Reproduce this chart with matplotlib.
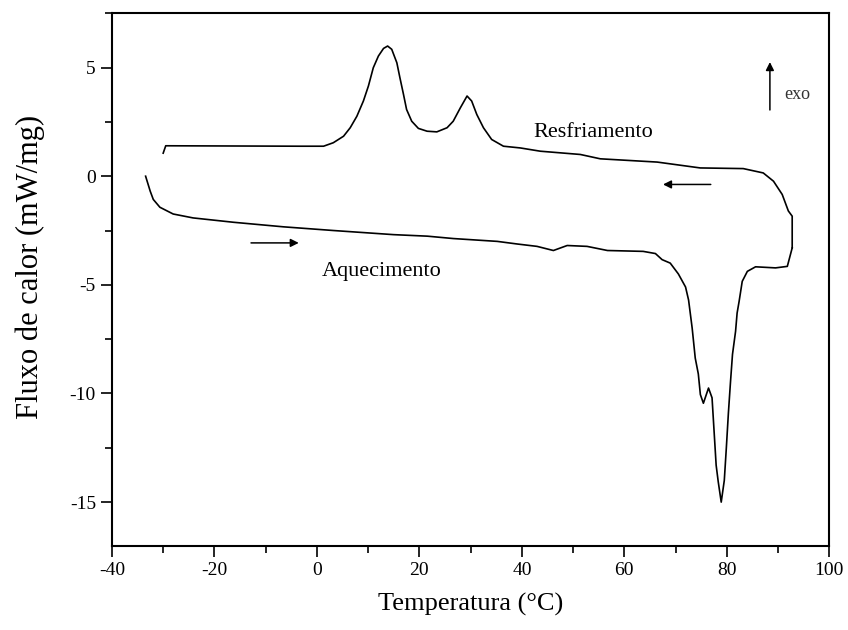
import matplotlib
matplotlib.use("Agg")
import matplotlib.pyplot as plt
from matplotlib.ticker import MultipleLocator

plt.rcParams['font.family'] = ['Liberation Serif', 'DejaVu Serif']
plt.rcParams['axes.unicode_minus'] = False

# heating run (Aquecimento), left to right
heat_T = [-33.43, -32.53, -31.93, -30.64, -28.05, -24.17, -16.3, -6.54, 3.22, 14.97,
          21.55, 26.63, 35.19, 39.07, 42.96, 46.15, 48.84, 52.72, 56.7, 63.67,
          66.06, 67.36, 68.95, 70.54, 71.94, 72.53, 73.23, 73.83, 74.43, 74.83,
          75.42, 76.42, 77.11, 77.51, 77.91, 78.31, 78.9, 79.5, 79.9, 80.3,
          80.7, 81.1, 81.7, 82.0, 82.4, 83.0, 84.0, 85.6, 89.5, 91.8, 92.75]
heat_q = [0.0, -0.69, -1.07, -1.43, -1.74, -1.92, -2.12, -2.33, -2.5, -2.69,
          -2.76, -2.87, -3.0, -3.12, -3.23, -3.42, -3.19, -3.23, -3.42, -3.46,
          -3.56, -3.84, -4.0, -4.5, -5.1, -5.7, -6.99, -8.37, -9.1, -10.05,
          -10.45, -9.75, -10.2, -11.75, -13.3, -14.05, -15.0, -14.0, -12.5, -10.9,
          -9.5, -8.2, -7.14, -6.3, -5.75, -4.84, -4.38, -4.17, -4.22, -4.15, -3.3]

# cooling run (Resfriamento), right to left
cool_T = [92.75, 92.75, 92.0, 90.8, 89.1, 87.1, 83.2, 74.8, 66.4, 55.3,
          51.4, 43.6, 39.7, 36.4, 34.1, 32.5, 31.2, 30.2, 29.3, 28.0,
          26.6, 25.4, 23.4, 21.5, 19.8, 18.5, 17.5, 16.9, 16.2, 15.6,
          14.6, 13.8, 13.0, 12.0, 11.0, 10.05, 9.07, 7.8, 6.5, 5.2,
          3.2, 1.3, -3.3, -29.5, -30.0]
cool_q = [-3.3, -1.84, -1.6, -0.84, -0.23, 0.15, 0.35, 0.38, 0.65, 0.8,
          1.0, 1.15, 1.3, 1.38, 1.69, 2.23, 2.84, 3.46, 3.69, 3.15,
          2.53, 2.23, 2.04, 2.07, 2.2, 2.53, 3.07, 3.76, 4.53, 5.22,
          5.84, 5.99, 5.88, 5.53, 4.99, 4.15, 3.46, 2.76, 2.23, 1.84,
          1.54, 1.38, 1.38, 1.4, 1.06]

fig = plt.figure(figsize=(8.48, 6.3), dpi=100)
ax = fig.add_axes([0.132, 0.134, 0.846, 0.845])

ax.plot(heat_T, heat_q, color='black', lw=1.2)
ax.plot(cool_T, cool_q, color='black', lw=1.2)

arrow = dict(arrowstyle='-|>', color='black', lw=1.1, mutation_scale=12)
ax.annotate('', xy=(67.0, -0.38), xytext=(77.4, -0.38), arrowprops=arrow)
ax.annotate('', xy=(-3.0, -3.07), xytext=(-13.4, -3.07), arrowprops=arrow)
ax.annotate('', xy=(88.4, 5.38), xytext=(88.4, 2.92), arrowprops=arrow)
ax.text(91.2, 3.78, 'exo', fontsize=13, va='center', ha='left', color='#333333')
ax.text(42.2, 2.0, 'Resfriamento', fontsize=16, va='center', ha='left')
ax.text(1.0, -4.38, 'Aquecimento', fontsize=16, va='center', ha='left')

ax.set_xlim(-40, 100)
ax.set_ylim(-17, 7.5)
ax.xaxis.set_major_locator(MultipleLocator(20))
ax.xaxis.set_minor_locator(MultipleLocator(10))
ax.yaxis.set_major_locator(MultipleLocator(5))
ax.yaxis.set_minor_locator(MultipleLocator(2.5))
ax.tick_params(which='major', direction='out', length=8, width=1.2, labelsize=14)
ax.tick_params(which='minor', direction='out', length=5, width=1.2)
for s in ax.spines.values():
    s.set_linewidth(1.5)

ax.set_xlabel('Temperatura (°C)', fontsize=19, labelpad=10)
ax.set_ylabel('Fluxo de calor (mW/mg)', fontsize=22, va='center')
ax.yaxis.set_label_coords(-0.114, 0.523)

fig.savefig("out.png")
